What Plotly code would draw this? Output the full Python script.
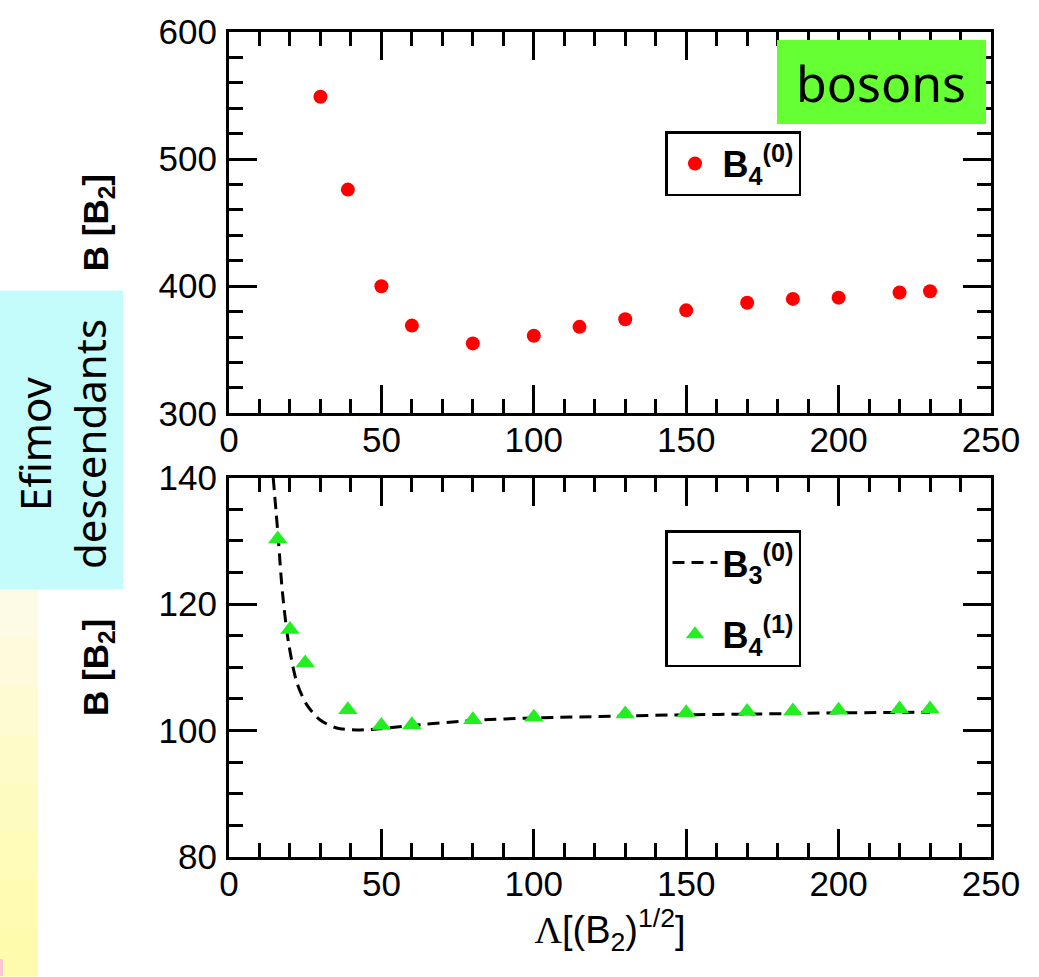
import plotly.graph_objects as go

# ---------------- data ----------------
top_x = [30, 39, 50, 60, 80, 100, 115, 130, 150, 170, 185, 200, 220, 230]
top_y = [549, 476, 400, 369, 355, 361, 368, 374, 381, 387, 390, 391, 395, 396]

b4_1_x = [16, 20, 25, 39, 50, 60, 80, 100, 130, 150, 170, 185, 200, 220, 230]
b4_1_y = [130.3, 116.0, 110.7, 103.3, 100.8, 100.9, 101.7, 102.1, 102.6, 102.8,
          103.0, 103.1, 103.2, 103.4, 103.4]

b3_0_x = [14.5, 16.2, 17.5, 19.5, 22.2, 25.5, 29.8, 35.3, 43, 50, 60, 80, 100,
          130, 150, 170, 200, 230]
b3_0_y = [140.0, 130.2, 122.0, 114.0, 107.7, 104.1, 101.7, 100.4, 100.1, 100.3,
          100.8, 101.6, 102.0, 102.3, 102.5, 102.6, 102.8, 102.9]

x_ticks = [0, 50, 100, 150, 200, 250]
top_y_ticks = [300, 400, 500, 600]
bot_y_ticks = [80, 100, 120, 140]

# ---------------- geometry (pixels) ----------------
W, H = 1039, 977
ML, MR, MT, MB = 229, 48, 24, 120
PW, PH = W - ML - MR, H - MT - MB


def px(x):
    return (x - ML) / PW


def py(y):
    return (H - MB - y) / PH


SANS = "Liberation Sans, Arial, sans-serif"
TICKFONT = dict(family=SANS, size=35, color="black")
LEGFONT = dict(family=SANS, size=36, color="black")
FUN = "Noto Sans, sans-serif"

fig = go.Figure()

fig.add_trace(go.Scatter(
    x=top_x, y=top_y, mode="markers", xaxis="x", yaxis="y",
    marker=dict(symbol="circle", size=14, color="#ff0000"),
    name="<b>B<sub>4</sub><sup>(0)</sup></b>", legend="legend",
))
fig.add_trace(go.Scatter(
    x=b3_0_x, y=b3_0_y, mode="lines", xaxis="x2", yaxis="y2",
    line=dict(color="black", width=3, dash="12px,7px", shape="spline", smoothing=0.8),
    name="<b>B<sub>3</sub><sup>(0)</sup></b>", legend="legend2", legendgroup="a",
))
fig.add_trace(go.Scatter(
    x=b4_1_x, y=b4_1_y, mode="markers", xaxis="x2", yaxis="y2",
    marker=dict(symbol="triangle-up", size=17, color="#22ee22"),
    name="<b>B<sub>4</sub><sup>(1)</sup></b>", legend="legend2", legendgroup="b",
))

axis_common = dict(
    showline=True, linecolor="black", linewidth=3, mirror="allticks",
    ticks="inside", ticklen=28, tickwidth=2.5, tickcolor="black",
    showgrid=False, zeroline=False, tickfont=TICKFONT,
)
YTITLE = dict(text="<b>B [B<sub>2</sub>]</b>", font=dict(family=SANS, size=35, color="black"), standoff=40)

fig.update_layout(
    width=W, height=H,
    margin=dict(l=ML, r=MR, t=MT, b=MB),
    paper_bgcolor="white", plot_bgcolor="white",
    showlegend=True,
    xaxis=dict(domain=[0, 1], anchor="y", range=[0, 250], tickvals=x_ticks,
               minor=dict(dtick=10, ticklen=14, tickwidth=2.5, tickcolor="black", ticks="inside"),
               ticklabelstandoff=-6, **axis_common),
    yaxis=dict(domain=[py(409), 1], anchor="x", range=[300, 600], tickvals=top_y_ticks,
               minor=dict(dtick=20, ticklen=14, tickwidth=2.5, tickcolor="black", ticks="inside"),
               title=YTITLE, ticklabelstandoff=2, **axis_common),
    xaxis2=dict(domain=[0, 1], anchor="y2", range=[0, 250], tickvals=x_ticks,
                minor=dict(dtick=10, ticklen=14, tickwidth=2.5, tickcolor="black", ticks="inside"),
                ticklabelstandoff=-6,
                title=dict(text="<span style='font-family:Liberation Serif'>Λ</span>[(B<sub>2</sub>)<sup>1/2</sup>]",
                           font=dict(family=SANS, size=38, color="black"), standoff=8),
                **axis_common),
    yaxis2=dict(domain=[0, py(474)], anchor="x2", range=[80, 140], tickvals=bot_y_ticks,
                minor=dict(dtick=5, ticklen=14, tickwidth=2.5, tickcolor="black", ticks="inside"),
                title=YTITLE, ticklabelstandoff=2, **axis_common),
    legend=dict(x=px(665), y=py(124), xanchor="left", yanchor="top",
                bgcolor="white", bordercolor="black", borderwidth=2.5,
                font=LEGFONT, itemwidth=45),
    legend2=dict(x=px(665), y=py(527), xanchor="left", yanchor="top",
                 bgcolor="white", bordercolor="black", borderwidth=2.5,
                 font=LEGFONT, itemwidth=45, tracegroupgap=22),
)

# ---------------- decorations ----------------
shapes = []
band_cols = ["#fdfbe6", "#fdfbdc", "#fefbd2", "#fefbc9", "#fefbc1", "#fffbb9", "#fffbb3", "#fffbad"]
y0, y1 = 587, 977
step = (y1 - y0) / len(band_cols)
for i, c in enumerate(band_cols):
    shapes.append(dict(type="rect", xref="paper", yref="paper",
                       x0=px(0), x1=px(38), y0=py(y0 + i * step), y1=py(y0 + (i + 1) * step + 1),
                       fillcolor=c, line=dict(width=0), layer="below"))
shapes.append(dict(type="rect", xref="paper", yref="paper",
                   x0=px(0), x1=px(3), y0=py(960), y1=py(977),
                   fillcolor="#ffc8d8", line=dict(width=0), layer="below"))
shapes.append(dict(type="rect", xref="paper", yref="paper",
                   x0=px(0), x1=px(123), y0=py(587), y1=py(285),
                   fillcolor="#c4fcfc", line=dict(width=0), layer="below"))
shapes.append(dict(type="rect", xref="paper", yref="paper",
                   x0=px(777), x1=px(986), y0=py(117), y1=py(32),
                   fillcolor="#66ff33", line=dict(width=0), layer="above"))
fig.update_layout(shapes=shapes)

fig.add_annotation(xref="paper", yref="paper", x=px(881), y=py(75),
                   text="bosons", showarrow=False,
                   font=dict(family=FUN, size=50, color="black"),
                   xanchor="center", yanchor="middle")
fig.add_annotation(xref="paper", yref="paper", x=px(62), y=py(440),
                   text="Efimov<br>descendants", showarrow=False, textangle=-90,
                   font=dict(family=FUN, size=42, color="black"),
                   xanchor="center", yanchor="middle")

fig.write_html("out.html")
